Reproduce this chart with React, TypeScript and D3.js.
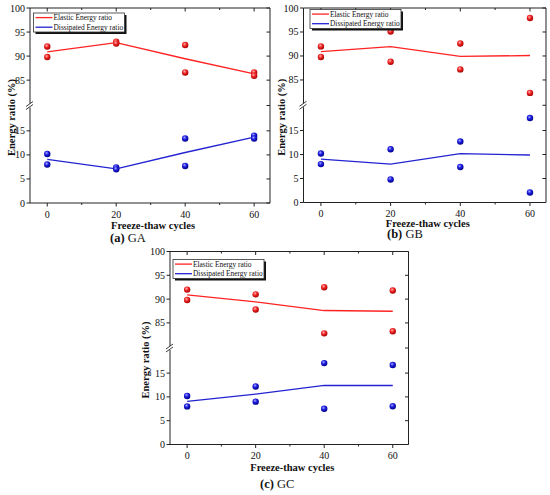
import * as React from 'react'
import * as d3 from 'd3'

const cycles = [0, 20, 40, 60]
const cycleTicks = [0, 20, 40, 60]
const cycleMinor = [10, 30, 50]
const ratioTicks = [0, 5, 10, 15, 85, 90, 95, 100]

// two specimens per cycle (hi / lo) and the mean line
const gaElasticHi = [92.0, 93.0, 92.3, 86.6]
const gaElasticLo = [89.8, 92.6, 86.6, 85.9]
const gaElasticLine = [90.9, 92.8, 89.45, 86.3]
const gaDissHi = [10.2, 7.4, 13.4, 14.0]
const gaDissLo = [8.0, 7.0, 7.7, 13.4]
const gaDissLine = [9.05, 7.1, 10.5, 13.7]

const gbElasticHi = [92.0, 95.1, 92.6, 97.9]
const gbElasticLo = [89.8, 88.8, 87.2, 82.3]
const gbElasticLine = [90.9, 91.95, 89.9, 90.1]
const gbDissHi = [10.2, 11.1, 12.7, 17.6]
const gbDissLo = [8.0, 4.8, 7.4, 2.1]
const gbDissLine = [9.05, 8.0, 10.2, 9.9]

const gcElasticHi = [92.0, 91.0, 92.5, 91.8]
const gcElasticLo = [89.8, 87.8, 82.8, 83.25]
const gcElasticLine = [90.9, 89.4, 87.6, 87.45]
const gcDissHi = [10.2, 12.2, 17.1, 16.7]
const gcDissLo = [8.0, 9.0, 7.5, 8.05]
const gcDissLine = [9.05, 10.6, 12.4, 12.4]

const legendLabels = ['Elastic Energy ratio', 'Dissipated Energy ratio']

const RED = '#ff2323'
const BLUE = '#2323d2'
const AXIS = '#222'
const FONT = '"Liberation Serif", "Times New Roman", serif'

const panels = [
  {
    key: 'a', label: '(a)', name: 'GA',
    left: 30, right: 270, top: 8, bottom: 203,
    elHi: gaElasticHi, elLo: gaElasticLo, elLine: gaElasticLine,
    diHi: gaDissHi, diLo: gaDissLo, diLine: gaDissLine,
    legend: [3.5, 5], titleX: 11, titleDy: 25.5, capX: 110, capY: 242,
  },
  {
    key: 'b', label: '(b)', name: 'GB',
    left: 303.5, right: 546, top: 8, bottom: 202.5,
    elHi: gbElasticHi, elLo: gbElasticLo, elLine: gbElasticLine,
    diHi: gbDissHi, diLo: gbDissLo, diLine: gbDissLine,
    legend: [6.5, 1.5], titleX: 281, titleDy: 24, capX: 387, capY: 238,
  },
  {
    key: 'c', label: '(c)', name: 'GC',
    left: 170, right: 408.5, top: 251.5, bottom: 444.5,
    elHi: gcElasticHi, elLo: gcElasticLo, elLine: gcElasticLine,
    diHi: gcDissHi, diLo: gcDissLo, diLine: gcDissLine,
    legend: [3, 8], titleX: 145, titleDy: 26.5, capX: 260, capY: 487.5,
  },
]

const Dots = ({vals, x, y, fill}) => (
  <>
    {vals.map((v, i) => (
      <circle key={i} cx={x(cycles[i])} cy={y(v)} r={3.2} fill={fill} />
    ))}
  </>
)

const Panel = ({p}) => {
  const h = p.bottom - p.top
  const gap = 2.6
  const x = d3.scaleLinear().domain([-5, 64.6]).range([p.left, p.right])
  const y = d3.scaleLinear()
    .domain([0, 20, 80, 100])
    .range([p.bottom, p.top + h / 2 + gap / 2, p.top + h / 2 - gap / 2, p.top])
  const brk = p.top + h / 2

  const line = d3.line<number>()
    .x((d, i) => x(cycles[i]))
    .y(d => y(d))

  const lx = p.left + p.legend[0]
  const ly = p.top + p.legend[1]

  return (
    <g>
      {/* frame */}
      <line x1={p.left} x2={p.right} y1={p.bottom} y2={p.bottom} stroke={AXIS} />
      <line x1={p.left} x2={p.right} y1={p.top} y2={p.top} stroke={AXIS} />
      <line x1={p.right} x2={p.right} y1={p.top} y2={p.bottom} stroke={AXIS} />
      <line x1={p.left} x2={p.left} y1={p.top} y2={brk - 2} stroke={AXIS} />
      <line x1={p.left} x2={p.left} y1={brk + 2} y2={p.bottom} stroke={AXIS} />
      <line x1={p.left - 4} x2={p.left + 3} y1={brk + 1} y2={brk - 4} stroke={AXIS} strokeWidth={0.9} />
      <line x1={p.left - 4} x2={p.left + 3} y1={brk + 4} y2={brk - 1} stroke={AXIS} strokeWidth={0.9} />

      {/* x ticks */}
      {cycleTicks.map(t => (
        <g key={'xt' + t}>
          <line x1={x(t)} x2={x(t)} y1={p.bottom} y2={p.bottom + 3.5} stroke={AXIS} />
          <line x1={x(t)} x2={x(t)} y1={p.top} y2={p.top + 3.5} stroke={AXIS} />
          <text x={x(t)} y={p.bottom + 14.5} textAnchor="middle" fontSize={10}>{t}</text>
        </g>
      ))}
      {cycleMinor.map(t => (
        <g key={'xm' + t}>
          <line x1={x(t)} x2={x(t)} y1={p.bottom} y2={p.bottom + 2} stroke={AXIS} />
          <line x1={x(t)} x2={x(t)} y1={p.top} y2={p.top + 2} stroke={AXIS} />
        </g>
      ))}

      {/* y ticks */}
      {ratioTicks.map(t => (
        <g key={'yt' + t}>
          <line x1={p.left - 3.5} x2={p.left} y1={y(t)} y2={y(t)} stroke={AXIS} />
          <line x1={p.right - 3.5} x2={p.right} y1={y(t)} y2={y(t)} stroke={AXIS} />
          <text x={p.left - 5} y={y(t)} dy="0.35em" textAnchor="end" fontSize={10}>{t}</text>
        </g>
      ))}
      <line x1={p.right - 3.5} x2={p.right} y1={brk} y2={brk} stroke={AXIS} />

      {/* titles */}
      <text x={(p.left + p.right) / 2 + 3} y={p.bottom + p.titleDy} textAnchor="middle" fontSize={10.5} fontWeight="bold">
        Freeze-thaw cycles
      </text>
      <text transform={`translate(${p.titleX},${brk + 12}) rotate(-90)`} dy="0.35em" textAnchor="middle"
        fontSize={10.5} fontWeight="bold">
        Energy ratio (%)
      </text>
      <text x={p.capX} y={p.capY} fontSize={12.5}>
        <tspan fontWeight="bold">{p.label}</tspan> {p.name}
      </text>

      {/* mean lines */}
      <path d={line(p.elLine)} fill="none" stroke={RED} strokeWidth={1.3} />
      <path d={line(p.diLine)} fill="none" stroke={BLUE} strokeWidth={1.3} />

      {/* specimens */}
      <Dots vals={p.elHi} x={x} y={y} fill="url(#ballRed)" />
      <Dots vals={p.elLo} x={x} y={y} fill="url(#ballRed)" />
      <Dots vals={p.diHi} x={x} y={y} fill="url(#ballBlue)" />
      <Dots vals={p.diLo} x={x} y={y} fill="url(#ballBlue)" />

      {/* legend */}
      <rect x={lx + 2} y={ly + 2} width={91} height={19} fill="#111" />
      <rect x={lx} y={ly} width={91} height={19} fill="#fff" stroke="#333" strokeWidth={0.8} />
      {legendLabels.map((lab, i) => (
        <g key={lab}>
          <line x1={lx + 2} x2={lx + 19} y1={ly + 4.6 + i * 9.6} y2={ly + 4.6 + i * 9.6}
            stroke={i === 0 ? RED : BLUE} strokeWidth={1.3} />
          <text x={lx + 20} y={ly + 4.6 + i * 9.6} dy="0.33em" fontSize={7.4}>{lab}</text>
        </g>
      ))}
    </g>
  )
}

const App = () => (
  <svg width={550} height={495} style={{position: 'absolute', left: 0, top: 0, background: '#fff'}}
    fontFamily={FONT} fill="#111">
    <defs>
      <radialGradient id="ballRed" cx="0.4" cy="0.35" r="0.65">
        <stop offset="0" stopColor="#ffb0b0" />
        <stop offset="0.45" stopColor="#f02828" />
        <stop offset="1" stopColor="#a80000" />
      </radialGradient>
      <radialGradient id="ballBlue" cx="0.4" cy="0.35" r="0.65">
        <stop offset="0" stopColor="#a8a8ff" />
        <stop offset="0.45" stopColor="#1e1ee0" />
        <stop offset="1" stopColor="#00008a" />
      </radialGradient>
    </defs>
    <rect width={550} height={495} fill="#fff" />
    {panels.map(p => <Panel key={p.key} p={p} />)}
  </svg>
)

export default App
